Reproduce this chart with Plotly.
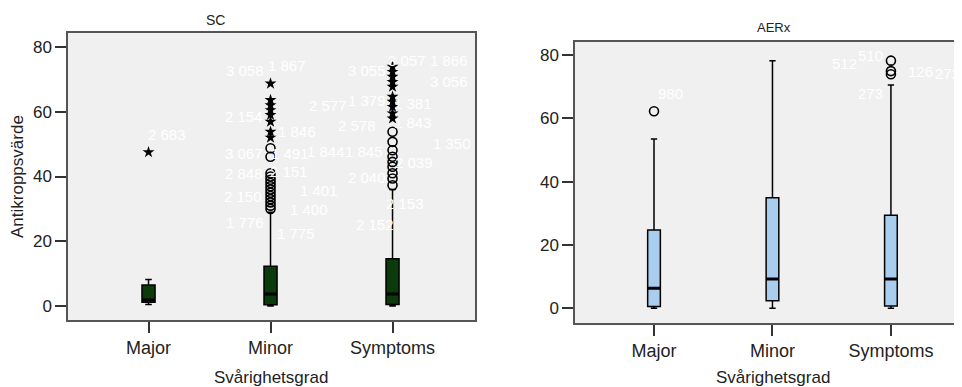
import plotly.graph_objects as go

categories = ["Major", "Minor", "Symptoms"]

# SC panel box statistics
sc_lower = [0.5, 0.0, 0.0]
sc_q1 = [1.2, 0.4, 0.5]
sc_median = [1.9, 3.7, 3.7]
sc_q3 = [6.5, 12.3, 14.6]
sc_upper = [8.2, 29.0, 36.0]

# SC outliers
sc_minor_circles = [48.7, 46.1, 41.0, 40.0, 39.0, 38.0, 37.0, 36.0, 35.0, 34.0, 33.0, 32.0, 31.0, 30.0]
sc_minor_stars = [68.7, 63.6, 62.0, 60.5, 59.0, 56.9, 53.8, 52.0]
sc_symp_circles = [53.8, 50.7, 48.1, 46.1, 44.5, 43.0, 41.0, 39.4, 37.3]
sc_symp_stars = [73.9, 72.3, 70.8, 69.2, 67.7, 64.6, 63.1, 61.5, 59.5, 57.9]
sc_major_stars = [47.5]

# SC outlier case labels
sc_label_cat = [0] + [1] * 15 + [2] * 14
sc_label_val = [53.0,
                72.8, 74.4, 62.0, 58.4, 54.0, 47.1, 47.1, 47.6, 41.0, 41.5, 35.8, 33.7, 29.9, 25.7, 22.4,
                47.6, 72.8, 75.9, 75.9, 69.2, 63.6, 62.6, 55.6, 56.6, 50.2, 44.4, 39.6, 31.7, 25.3]
sc_label_txt = ["2 683",
                "3 058", "1 867", "2 577", "2 154", "1 846", "3 067", "1 491", "1 844", "2 848", "2 151",
                "1 401", "2 150", "1 400", "1 776", "1 775",
                "1 845", "3 055", "3 057", "1 866", "3 056", "1 379", "1 381", "2 578", "1 843", "1 350",
                "2 039", "2 040", "2 153", "2 152"]
sc_label_dx = [0.15,
               -0.21, 0.135, 0.47, -0.217, 0.217, -0.217, 0.16, 0.455, -0.217, 0.152,
               0.397, -0.226, 0.315, -0.21, 0.209,
               -0.234, -0.209, 0.119, 0.463, 0.463, -0.209, 0.168, -0.291, 0.168, 0.488,
               0.176, -0.209, 0.102, -0.144]

# AERx panel box statistics
aer_lower = [0.0, 0.0, 0.0]
aer_q1 = [0.5, 2.3, 0.7]
aer_median = [6.3, 9.2, 9.2]
aer_q3 = [24.7, 34.9, 29.4]
aer_upper = [53.5, 78.3, 70.6]

aer_major_circles = [62.3]
aer_symp_circles = [78.3, 75.0, 74.0]

aer_label_cat = [0, 2, 2, 2, 2, 2]
aer_label_val = [68.0, 77.4, 80.0, 67.9, 74.8, 74.1]
aer_label_txt = ["980", "512", "510", "273", "126", "272"]
aer_label_dx = [0.143, -0.389, -0.169, -0.169, 0.253, 0.481]

y_ticks = [0, 20, 40, 60, 80]

FONT = "Arial, Liberation Sans, sans-serif"
SC_FILL = "#0b3b0b"
AER_FILL = "#a8cdee"

# The page body has an 8px margin; size the figure so it fills the window exactly.
OFF = 8
W, H = 962 - OFF, 387 - OFF


def fx(px):
    return (px - OFF) / W


def fy(py):
    return (387 - py) / H


fig = go.Figure()


def add_box(q1, med, q3, lo, up, fill, xa, ya):
    fig.add_trace(go.Box(
        x=categories, q1=q1, median=med, q3=q3, lowerfence=lo, upperfence=up,
        fillcolor=fill, line=dict(color="black", width=1.5),
        width=0.107, whiskerwidth=0.5, boxpoints=False,
        xaxis=xa, yaxis=ya, showlegend=False, hoverinfo="skip"))
    # thick median bar drawn as a zero-height box
    fig.add_trace(go.Box(
        x=categories, q1=med, median=med, q3=med, lowerfence=med, upperfence=med,
        fillcolor="rgba(0,0,0,0)", line=dict(color="black", width=3),
        width=0.107, whiskerwidth=0, boxpoints=False,
        xaxis=xa, yaxis=ya, showlegend=False, hoverinfo="skip"))


add_box(sc_q1, sc_median, sc_q3, sc_lower, sc_upper, SC_FILL, "x", "y")
add_box(aer_q1, aer_median, aer_q3, aer_lower, aer_upper, AER_FILL, "x2", "y2")

circle = dict(symbol="circle-open", size=9, color="black", line=dict(width=1.6, color="black"))
star = dict(symbol="star", size=9, color="black", line=dict(width=0))


def pts(cat, vals, mk, xa, ya):
    fig.add_trace(go.Scatter(x=[cat] * len(vals), y=vals, mode="markers", marker=mk,
                             xaxis=xa, yaxis=ya, showlegend=False, hoverinfo="skip"))


pts("Minor", sc_minor_circles, circle, "x", "y")
pts("Minor", sc_minor_stars, star, "x", "y")
pts("Symptoms", sc_symp_circles, circle, "x", "y")
pts("Symptoms", sc_symp_stars, star, "x", "y")
pts("Major", sc_major_stars, star, "x", "y")
pts("Major", aer_major_circles, circle, "x2", "y2")
pts("Symptoms", aer_symp_circles, circle, "x2", "y2")

annotations = []
for c, v, t, dx in zip(sc_label_cat, sc_label_val, sc_label_txt, sc_label_dx):
    annotations.append(dict(x=c + dx, y=v, xref="x", yref="y", text=t, showarrow=False,
                            xanchor="center", yanchor="middle",
                            font=dict(family=FONT, size=15, color="white")))
for c, v, t, dx in zip(aer_label_cat, aer_label_val, aer_label_txt, aer_label_dx):
    annotations.append(dict(x=c + dx, y=v, xref="x2", yref="y2", text=t, showarrow=False,
                            xanchor="center", yanchor="middle",
                            font=dict(family=FONT, size=15, color="white")))


def paper_text(px, py, text, size, angle=0):
    return dict(x=fx(px), y=fy(py), xref="paper", yref="paper", text=text,
                showarrow=False, xanchor="center", yanchor="middle", textangle=angle,
                font=dict(family=FONT, size=size, color="#222"))


annotations += [
    paper_text(215, 20, "SC", 14),
    paper_text(774, 27, "AERx", 13),
    paper_text(18, 177, "Antikroppsvärde", 17, -90),
    paper_text(271, 377, "Svårighetsgrad", 17),
    paper_text(773, 377, "Svårighetsgrad", 17),
]

axis_common = dict(showgrid=False, zeroline=False, ticks="outside", ticklen=11, tickwidth=1.5,
                   tickcolor="#333", linecolor="#555", linewidth=1.5, showline=True)
xfont = dict(family=FONT, size=18, color="#222")
yfont = dict(family=FONT, size=17, color="#222")

fig.update_layout(
    width=W, height=H, margin=dict(l=0, r=0, t=0, b=0),
    paper_bgcolor="white", plot_bgcolor="#f0f0f0",
    annotations=annotations,
    xaxis=dict(domain=[fx(68), fx(475)], anchor="y", type="category",
               categoryorder="array", categoryarray=categories, tickfont=xfont,
               range=[-0.66, 2.676], mirror=True, **axis_common),
    yaxis=dict(domain=[fy(320), fy(33)], anchor="x", tickfont=yfont,
               range=[-4.3, 84.3], tickvals=y_ticks, mirror=True, **axis_common),
    xaxis2=dict(domain=[fx(575), 1.0], anchor="y2", type="category",
                categoryorder="array", categoryarray=categories, tickfont=xfont,
                range=[-0.667, 2.6], mirror=True, **axis_common),
    yaxis2=dict(domain=[fy(323), fy(42)], anchor="x2", tickfont=yfont,
                range=[-4.7, 84.2], tickvals=y_ticks, mirror=False, **axis_common),
)

fig.write_html("out.html")
